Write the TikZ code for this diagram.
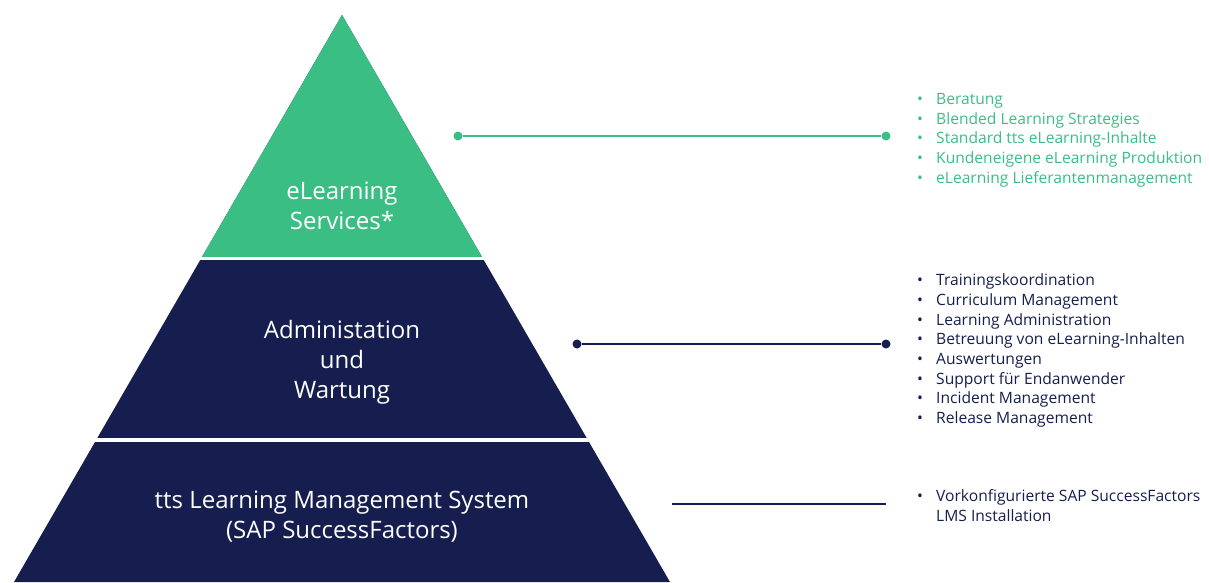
\documentclass[tikz,border=0pt]{standalone}
\usepackage{fontspec}
\setmainfont{Open Sans}
\usetikzlibrary{positioning}
\definecolor{ttsgreen}{RGB}{58,190,132}
\definecolor{ttsnavy}{RGB}{21,30,78}
\newcommand{\bul}{\makebox[19pt][l]{\textbullet}}
\newcommand{\nobul}{\makebox[19pt][l]{}}

\begin{document}
\begin{tikzpicture}[x=1pt,y=-1pt,
  dot/.style={circle,fill,inner sep=0pt,minimum size=9pt},
  layer/.style={text=white,align=center,font=\fontsize{24}{30}\selectfont},
  items/.style={anchor=west,align=left,inner sep=0pt,font=\fontsize{15.6}{19.7}\selectfont}]
  \useasboundingbox (0,0) rectangle (1209,582);

  % pyramid
  \fill[ttsnavy]  (342,15) -- (670,582) -- (14,582) -- cycle;
  \fill[ttsgreen] (342,15) -- (483,258.5) -- (201,258.5) -- cycle;
  \draw[white,line width=3pt]   (150,258.5) -- (540,258.5);
  \draw[white,line width=3.5pt] (40,440) -- (640,440);

  \node[layer] (els) at (342,206) {eLearning\\Services*};
  \node[layer] (adm) at (342,362.5) {Administation\\und\\Wartung};
  \node[layer] (lms) at (342,517) {tts Learning Management System\\(SAP SuccessFactors)};

  % connectors
  \node[dot,ttsgreen] (g1) at (458,136) {};
  \node[dot,ttsgreen] (g2) at (886,136) {};
  \node[dot,ttsnavy]  (n1) at (577,344) {};
  \node[dot,ttsnavy]  (n2) at (886,344) {};
  \coordinate (b1) at (672,504);
  \coordinate (b2) at (886,504);

  \path (g1) edge[ttsgreen,line width=2.5pt] (g2)
        (n1) edge[ttsnavy,line width=2pt]    (n2)
        (b1) edge[ttsnavy,line width=1.5pt]  (b2);

  % lists
  \node[items,text=ttsgreen] (gl) at (917,140) {\bul Beratung\\
    \bul Blended Learning Strategies\\
    \bul Standard tts eLearning-Inhalte\\
    \bul Kundeneigene eLearning Produktion\\
    \bul eLearning Lieferantenmanagement};
  \node[items,text=ttsnavy] (nl) at (917,350.5) {\bul Trainingskoordination\\
    \bul Curriculum Management\\
    \bul Learning Administration\\
    \bul Betreuung von eLearning-Inhalten\\
    \bul Auswertungen\\
    \bul Support für Endanwender\\
    \bul Incident Management\\
    \bul Release Management};
  \node[items,text=ttsnavy] (bl) at (917,505.5) {\bul Vorkonfigurierte SAP SuccessFactors\\
    \nobul LMS Installation};
\end{tikzpicture}
\end{document}
